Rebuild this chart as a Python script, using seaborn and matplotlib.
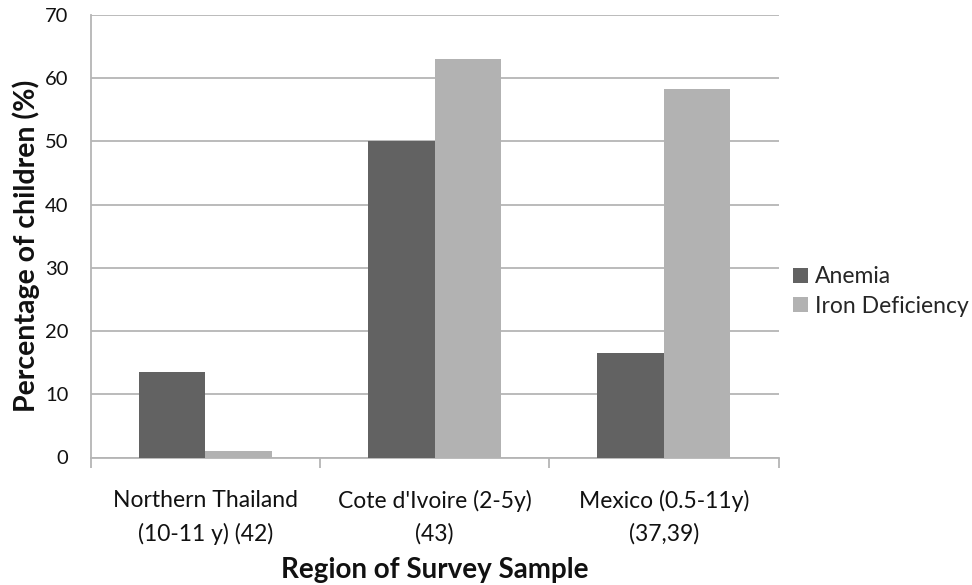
import matplotlib
matplotlib.use("Agg")
import matplotlib.pyplot as plt
import seaborn as sns
import pandas as pd

categories = ["Northern Thailand\n(10-11 y) (42)", "Cote d'Ivoire (2-5y)\n(43)", "Mexico (0.5-11y)\n(37,39)"]
series_names = ["Anemia", "Iron Deficiency"]
anemia = [13.5, 50.0, 16.6]
iron_deficiency = [1.0, 63.1, 58.3]
y_ticks = [0, 10, 20, 30, 40, 50, 60, 70]

df = pd.DataFrame({
    "region": categories * 2,
    "series": [series_names[0]] * 3 + [series_names[1]] * 3,
    "value": anemia + iron_deficiency,
})

sns.set_theme(style="white")
plt.rcParams["font.family"] = ["Lato", "DejaVu Sans"]

fig = plt.figure(figsize=(9.72, 5.85), dpi=100)
ax = fig.add_axes([90.5 / 972, 1 - 457.5 / 585, (778.5 - 90.5) / 972, (457.5 - 15) / 585])

grid_c = "#b5b5b5"
sns.barplot(data=df, x="region", y="value", hue="series", order=categories,
            hue_order=series_names, palette=["#626262", "#b2b2b2"],
            width=0.58, gap=0, saturation=1, linewidth=0, ax=ax, legend=True, zorder=3)

ax.set_ylim(0, 70)
ax.set_xlim(-0.5, 2.5)
ax.set_yticks(y_ticks)
ax.yaxis.grid(True, color=grid_c, linewidth=1.3)
ax.set_axisbelow(True)
for s in ["top", "right"]:
    ax.spines[s].set_visible(False)
for s in ["left", "bottom"]:
    ax.spines[s].set_color(grid_c)
    ax.spines[s].set_linewidth(1.3)

ax.tick_params(axis="y", length=7, width=1.3, color=grid_c, pad=9, labelsize=14.5, labelcolor="#111111")
ax.set_xticks([0, 1, 2])
ax.set_xticklabels(categories, linespacing=1.65)
ax.set_xticks([-0.5, 0.5, 1.5, 2.5], minor=True)
ax.tick_params(axis="x", which="major", length=0, pad=23.4, labelsize=16.5, labelcolor="#111111")
ax.tick_params(axis="x", which="minor", length=7, width=1.3, color=grid_c, bottom=True)

ax.set_ylabel("Percentage of children (%)", fontsize=20.5, fontweight="bold", color="#111111")
ax.yaxis.set_label_coords(-0.0734, 0.478)
ax.set_xlabel("Region of Survey Sample", fontsize=20, fontweight="bold", color="#111111")
ax.xaxis.set_label_coords(0.5, -0.225)

handles, labels = ax.get_legend_handles_labels()
ax.legend_.remove()
fig.legend(handles, labels, loc="center left", bbox_to_anchor=(793 / 972, 1 - 291.5 / 585),
           frameon=False, fontsize=16.5, handlelength=0.65, handleheight=0.6,
           handletextpad=0.3, labelspacing=0.35, borderaxespad=0, borderpad=0)

fig.savefig("out.png", dpi=100)
